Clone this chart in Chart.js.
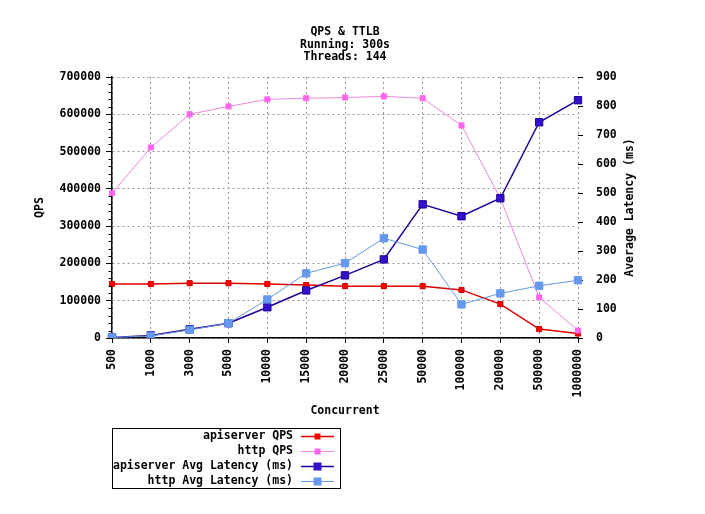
<!DOCTYPE html>
<html>
<head>
<meta charset="utf-8">
<script src="https://cdn.jsdelivr.net/npm/chart.js@4/dist/chart.umd.min.js"></script>
<style>
html,body{margin:0;padding:0;background:#fff;}
#wrap{width:705px;height:514px;}
</style>
</head>
<body>
<div id="wrap"><canvas id="c" width="705" height="514"></canvas></div>
<script>
const categories = ['500','1000','3000','5000','10000','15000','20000','25000','50000','100000','200000','500000','1000000'];
const apiserverQps = [145000,145000,147000,147000,145000,142000,139000,139000,139000,129000,91000,24000,12000];
const httpQps = [388000,511000,600000,621000,640000,643000,645000,648000,643000,570000,375000,109000,20000];
const apiserverLatency = [2,9,30,51,106,164,216,271,461,420,482,744,820];
const httpLatency = [2,7,28,51,133,223,258,344,305,116,154,180,199];
const titleLines = ['QPS & TTLB','Running: 300s','Threads: 144'];
const xTitle = 'Concurrent';
const yTitle = 'QPS';
const y1Title = 'Average Latency (ms)';

const FONT = 'bold 11.5px "DejaVu Sans Mono", monospace';

const extras = {
  id: 'extras',
  beforeDraw(chart) {
    const ctx = chart.ctx;
    ctx.save();
    ctx.fillStyle = '#fff';
    ctx.fillRect(0, 0, chart.width, chart.height);
    ctx.restore();
  },
  afterDraw(chart) {
    const ctx = chart.ctx;
    const ca = chart.chartArea;
    const ys = chart.scales.y;
    ctx.save();
    // minor ticks on left axis
    ctx.strokeStyle = '#000';
    ctx.lineWidth = 1;
    for (let v = 0; v <= 700000; v += 20000) {
      if (v % 100000 === 0) continue;
      const py = Math.round(ys.getPixelForValue(v)) + 0.5;
      ctx.beginPath();
      ctx.moveTo(ca.left - 3.5, py);
      ctx.lineTo(ca.left, py);
      ctx.stroke();
    }
    // title
    ctx.fillStyle = '#000';
    ctx.font = FONT;
    ctx.textAlign = 'center';
    ctx.textBaseline = 'middle';
    const cx = (ca.left + ca.right) / 2;
    titleLines.forEach((t, i) => ctx.fillText(t, cx, 32 + i * 12.7));
    // x title
    ctx.fillText(xTitle, cx, 411);
    // left y title
    const cy = (ca.top + ca.bottom) / 2;
    ctx.save();
    ctx.translate(40, cy);
    ctx.rotate(-Math.PI / 2);
    ctx.fillText(yTitle, 0, 0);
    ctx.restore();
    // right y title
    ctx.save();
    ctx.translate(630, cy);
    ctx.rotate(-Math.PI / 2);
    ctx.fillText(y1Title, 0, 0);
    ctx.restore();
    // legend
    ctx.strokeStyle = '#000';
    ctx.lineWidth = 1;
    ctx.strokeRect(112.5, 428.5, 228, 60);
    ctx.textAlign = 'right';
    chart.data.datasets.forEach((ds, i) => {
      const ry = 436 + i * 15;
      ctx.fillStyle = '#000';
      ctx.fillText(ds.label, 293, ry);
      ctx.strokeStyle = ds.borderColor;
      ctx.lineWidth = ds.borderWidth;
      ctx.beginPath();
      ctx.moveTo(301, ry + 0.5);
      ctx.lineTo(334, ry + 0.5);
      ctx.stroke();
      const s = ds.legendSize;
      ctx.fillStyle = ds.pointBackgroundColor;
      ctx.fillRect(317.5 - s / 2, ry + 0.5 - s / 2, s, s);
    });
    ctx.restore();
  }
};

const tickFont = { family: '"DejaVu Sans Mono", monospace', size: 11.5, weight: 'bold' };

const chart = new Chart(document.getElementById('c'), {
  type: 'line',
  data: {
    labels: categories,
    datasets: [
      {
        label: 'apiserver QPS', data: apiserverQps, yAxisID: 'y',
        borderColor: '#dd0000', borderWidth: 1.5,
        pointStyle: 'rect', pointRadius: 3.6, pointBackgroundColor: '#ff0000', pointBorderColor: '#cc0000', pointBorderWidth: 1,
        legendSize: 6, order: 3, tension: 0
      },
      {
        label: 'http QPS', data: httpQps, yAxisID: 'y',
        borderColor: '#ee88dd', borderWidth: 1,
        pointStyle: 'rect', pointRadius: 3.6, pointBackgroundColor: '#ff66ee', pointBorderColor: '#ff66ee', pointBorderWidth: 1,
        legendSize: 6, order: 2, tension: 0
      },
      {
        label: 'apiserver Avg Latency (ms)', data: apiserverLatency, yAxisID: 'y1',
        borderColor: '#220099', borderWidth: 1.5,
        pointStyle: 'rect', pointRadius: 5.2, pointBackgroundColor: '#3311cc', pointBorderColor: '#220099', pointBorderWidth: 1,
        legendSize: 8, order: 1, tension: 0
      },
      {
        label: 'http Avg Latency (ms)', data: httpLatency, yAxisID: 'y1',
        borderColor: '#6699dd', borderWidth: 1,
        pointStyle: 'rect', pointRadius: 5.2, pointBackgroundColor: '#6699ee', pointBorderColor: '#6699ee', pointBorderWidth: 1,
        legendSize: 8, order: 0, tension: 0
      }
    ]
  },
  options: {
    responsive: false,
    animation: false,
    devicePixelRatio: 1,
    layout: { padding: { top: 77, left: 0, right: 0, bottom: 0 } },
    plugins: { legend: { display: false }, title: { display: false }, tooltip: { enabled: false } },
    scales: {
      x: {
        type: 'category',
        offset: false,
        afterFit(s) { s.height = 176; },
        border: { display: true, color: '#000', width: 1.5, dash: [2, 3] },
        grid: {
          display: true, drawOnChartArea: true, drawTicks: true,
          color: '#999', lineWidth: 1,
          tickLength: 5, tickColor: '#000', tickWidth: 1, tickBorderDash: []
        },
        ticks: {
          autoSkip: false, minRotation: 90, maxRotation: 90, padding: 6,
          color: '#000', font: tickFont
        }
      },
      y: {
        position: 'left',
        min: 0, max: 700000,
        afterFit(s) { s.width = 112; },
        border: { display: true, color: '#000', width: 1.5, dash: [2, 3] },
        grid: {
          color: '#999', lineWidth: 1,
          tickLength: 6, tickColor: '#000', tickWidth: 1, tickBorderDash: []
        },
        ticks: {
          stepSize: 100000, padding: 5, color: '#000',
          callback: v => String(v),
          font: tickFont
        }
      },
      y1: {
        position: 'right',
        min: 0, max: 900,
        afterFit(s) { s.width = 127; },
        border: { display: false },
        grid: {
          drawOnChartArea: false, drawTicks: true,
          tickLength: 5, tickColor: '#000', tickWidth: 1, tickBorderDash: []
        },
        ticks: {
          stepSize: 100, padding: 13, color: '#000',
          callback: v => String(v),
          font: tickFont
        }
      }
    }
  },
  plugins: [extras]
});
</script>
</body>
</html>
